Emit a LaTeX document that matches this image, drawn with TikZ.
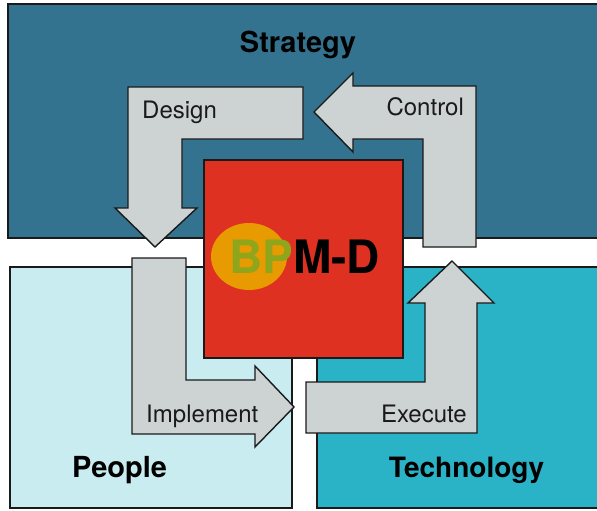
\documentclass[tikz,border=0pt]{standalone}
\usepackage{fontspec}
\setmainfont{TeX Gyre Heros}
\definecolor{stratc}{HTML}{33738F}
\definecolor{peoplec}{HTML}{C8ECF0}
\definecolor{techc}{HTML}{2AB3C7}
\definecolor{redc}{HTML}{DE3121}
\definecolor{arrowc}{HTML}{CDD3D3}
\definecolor{orangec}{HTML}{E89B00}
\definecolor{bpc}{HTML}{8FA51C}
\definecolor{linec}{HTML}{1A1A1A}
\tikzset{
  area/.style={draw=linec, line width=1.6pt},
  bigarrow/.style={draw=linec, fill=arrowc, line width=1.4pt, line join=miter},
  lbl/.style={inner sep=0pt, font=\fontsize{24}{28}\selectfont, text=linec},
  title/.style={inner sep=0pt, font=\fontsize{29}{34}\selectfont\bfseries, text=black}
}
\begin{document}
\begin{tikzpicture}[x=1pt,y=-1pt]
\useasboundingbox (0,0) rectangle (597,511);
\fill[white] (0,0) rectangle (597,511);
% areas
\draw[area, fill=stratc] (8,4) rectangle (602,238);
\draw[area, fill=peoplec] (10,267) rectangle (292,508);
\draw[area, fill=techc] (317,267) rectangle (602,508);
% arrows
\draw[bigarrow] (128,87) -- (303,87) -- (303,139) -- (182,139) -- (182,208) -- (197,208) -- (155,247) -- (115,208) -- (128,208) -- cycle;
\draw[bigarrow] (314,112) -- (353,73) -- (353,86) -- (476,86) -- (476,247) -- (423,247) -- (423,139) -- (353,139) -- (353,152) -- cycle;
\draw[bigarrow] (132,258) -- (186,258) -- (186,380) -- (255,380) -- (255,366) -- (294,407) -- (255,447) -- (255,434) -- (132,434) -- cycle;
\draw[bigarrow] (306,382) -- (425,382) -- (425,303) -- (408,303) -- (452,261) -- (494,303) -- (477,303) -- (477,433) -- (306,433) -- cycle;
% centre
\draw[area, fill=redc] (204,160) rectangle (403,358);
\fill[orangec] (249,256.5) ellipse [x radius=38, y radius=33.5];
% texts
\node[title, anchor=base] (strategy) at (298,53) {Strategy};
\node[title, anchor=base west] (people) at (72,477) {People};
\node[title, anchor=base, font=\fontsize{28}{33}\selectfont\bfseries] (technology) at (466.5,477) {Technology};
\node[lbl, anchor=base west] (design) at (142,118) {Design};
\node[lbl, anchor=base east] (control) at (464,115) {Control};
\node[lbl, anchor=base west] (implement) at (146,422) {Implement};
\node[lbl, anchor=base east] (execute) at (467,422) {Execute};
\node[inner sep=0pt, anchor=base west, font=\fontsize{46}{50}\selectfont\bfseries] (bpmd) at (229,273) {\textcolor{bpc}{BP}\textcolor{black}{M-D}};
\end{tikzpicture}
\end{document}
